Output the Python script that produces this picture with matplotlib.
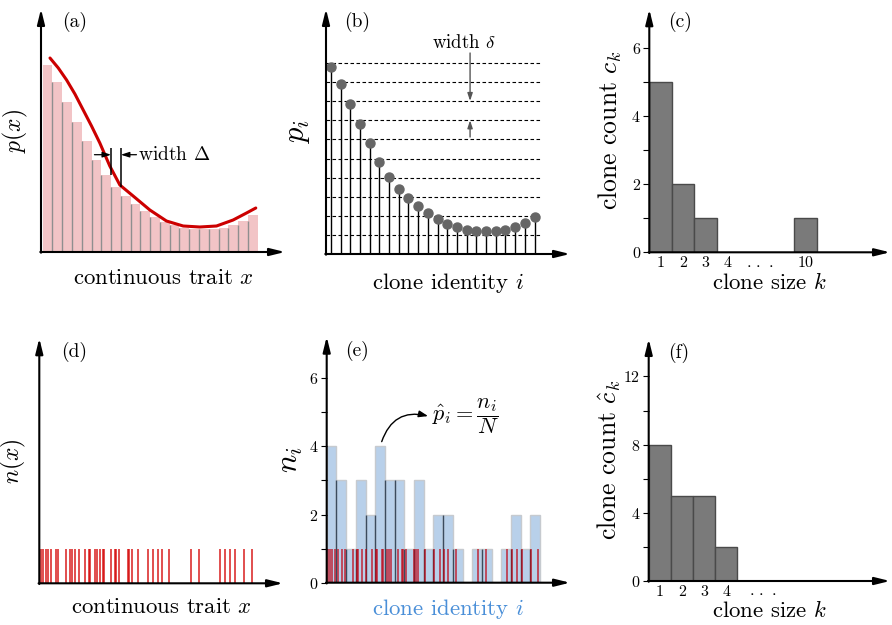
import numpy as np
import matplotlib
matplotlib.use("Agg")
import matplotlib.pyplot as plt
from matplotlib.transforms import blended_transform_factory

plt.rcParams['font.family'] = 'serif'
plt.rcParams['font.serif'] = ['cmr10', 'DejaVu Serif']
plt.rcParams['mathtext.fontset'] = 'cm'
plt.rcParams['axes.unicode_minus'] = False
plt.rcParams['axes.formatter.use_mathtext'] = True

# ---------------- data ----------------
# binned trait density (panel a) and clone frequencies (panel b)
p_bins = [18.7, 17.0, 15.0, 13.0, 11.1, 9.25, 7.75, 6.55, 5.65, 4.85, 4.15,
          3.55, 3.0, 2.7, 2.45, 2.35, 2.35, 2.35, 2.45, 2.7, 3.15, 3.75]
# continuous density curve (panel a)
curve_x = [0.75, 1.6, 2.45, 3.3, 4.15, 5.0, 5.85, 6.87, 7.9, 9.26, 10.97,
           12.67, 14.38, 16.08, 17.79, 19.49, 20.86, 21.81]
curve_y = [19.4, 18.4, 17.2, 15.8, 14.2, 12.6, 10.9, 8.6, 6.7, 5.6, 4.2,
           3.1, 2.6, 2.5, 2.6, 3.2, 3.9, 4.4]
# discretisation levels (panel b)
levels = [1.87, 3.8, 5.7, 7.63, 9.53, 11.47, 13.37, 15.3, 17.2, 19.13]
# clone size distribution (panel c)
DOTS = r'$\cdot\,\cdot\,\cdot$'
c_sizes = ['1', '2', '3', '4', DOTS, '10']
c_counts = [5, 2, 1, 0, None, 1]
# sampled individuals (panels d, e)
samples = [0.10, 0.34, 0.58, 0.86, 1.13, 1.62, 1.89, 2.68, 3.09, 3.26, 3.61,
           4.05, 4.64, 5.09, 5.15, 5.67, 5.84, 6.19, 6.46, 6.63, 7.32, 7.73,
           7.84, 8.14, 9.04, 9.18, 9.45, 10.14, 11.10, 11.68, 12.13, 12.54,
           13.33, 15.57, 16.43, 18.56, 19.07, 19.59, 20.10, 21.07, 21.82]
n_counts = [4, 3, 1, 3, 2, 4, 3, 3, 1, 3, 1, 2, 2, 1, 0, 1, 1, 0, 1, 2, 1, 2]
# sampled clone size distribution (panel f)
f_sizes = ['1', '2', '3', '4', DOTS]
f_counts = [8, 5, 5, 2, None]

W, H = 892, 625
fig = plt.figure(figsize=(W / 100, H / 100), dpi=100)


def add_ax(x0, y0, x1, ytop):
    return fig.add_axes([x0 / W, 1 - y0 / H, (x1 - x0) / W, (y0 - ytop) / H])


def arrows(ax):
    for s in ax.spines.values():
        s.set_visible(False)
    ap = dict(arrowstyle='-|>,head_length=0.65,head_width=0.16', lw=1.5,
              color='k', mutation_scale=14, shrinkA=0, shrinkB=0)
    ax.annotate('', xy=(1, 0), xytext=(-0.003, 0), xycoords='axes fraction',
                arrowprops=ap)
    ax.annotate('', xy=(0, 1), xytext=(0, -0.003), xycoords='axes fraction',
                arrowprops=ap)


def plain(ax):
    ax.set_xticks([])
    ax.set_yticks([])


XL = 16.4
PL = 14

# ---------------- panel (a) ----------------
ax = add_ax(41, 252, 285, 9)
nb = len(p_bins)
edges = np.arange(nb + 1)
ax.bar(edges[:-1], p_bins, width=1, align='edge', color='#f2c4c6',
       edgecolor='none')
for k in range(1, nb):
    ax.vlines(k, 0, min(p_bins[k - 1], p_bins[k]), color='#8f8f8f', lw=1.0)
ax.plot(curve_x, curve_y, color='#cc0000', lw=2.2, solid_capstyle='round')
ax.vlines(7, p_bins[6], 10.4, color='k', lw=1.1)
ax.vlines(8, p_bins[7], 10.4, color='k', lw=1.1)
sm = dict(arrowstyle='-|>,head_length=0.5,head_width=0.16', lw=0.9, color='k',
          mutation_scale=10, shrinkA=0, shrinkB=0)
ax.annotate('', xy=(7, 9.73), xytext=(5.3, 9.73), arrowprops=sm)
ax.annotate('', xy=(8, 9.73), xytext=(9.6, 9.73), arrowprops=sm)
ax.text(9.75, 9.73, r'width $\Delta$', fontsize=14, va='center', ha='left')
ax.set_xlim(-0.17, 24.8)
ax.set_ylim(0, 24.3)
arrows(ax)
plain(ax)
ax.set_xlabel(r'continuous trait $x$', fontsize=XL, labelpad=12)
ax.set_ylabel(r'$p(x)$', fontsize=17, labelpad=8)
ax.text(0.085, 0.99, '(a)', transform=ax.transAxes, fontsize=PL, va='top')

# ---------------- panel (b) ----------------
ax = add_ax(326, 254, 570, 9)
xs = np.arange(nb) + 0.5
ax.hlines(levels, 0, nb + 0.2, colors='k', linestyles=(0, (3.2, 2.2)), lw=0.8)
ax.vlines(xs, 0, p_bins, color='k', lw=1.0)
ax.plot(xs, p_bins, 'o', color='#666666', ms=6.5, mec='#666666')
sm2 = dict(arrowstyle='-|>,head_length=0.45,head_width=0.15', lw=1.0,
           color='#555555', mutation_scale=10, shrinkA=0, shrinkB=0)
ax.annotate('', xy=(14.85, levels[7]), xytext=(14.85, 20.1), arrowprops=sm2)
ax.annotate('', xy=(14.85, levels[6]), xytext=(14.85, 11.7), arrowprops=sm2)
ax.text(14.2, 21.1, r'width $\delta$', fontsize=13.5, ha='center', va='center')
ax.set_xlim(0, 25.15)
ax.set_ylim(0, 24.5)
arrows(ax)
plain(ax)
ax.set_xlabel(r'clone identity $i$', fontsize=XL, labelpad=12)
ax.set_ylabel(r'$p_i$', fontsize=22, labelpad=10)
ax.text(0.075, 0.99, '(b)', transform=ax.transAxes, fontsize=PL, va='top')


def count_panel(ax, labels, counts, label_pos, bar_pos, ymax, xmax, ticks,
                minors, dots_y):
    for pos, cnt in zip(bar_pos, counts):
        if cnt:
            ax.bar(pos, cnt, width=1, align='edge', color='#7a7a7a',
                   edgecolor='#4a4a4a', lw=1.0)
    ax.set_xlim(0, xmax)
    ax.set_ylim(0, ymax)
    arrows(ax)
    ax.set_xticks(label_pos)
    ax.set_xticklabels(['' if lab == DOTS else lab for lab in labels])
    ax.tick_params(axis='x', length=0, labelsize=11.5, pad=3)
    tr = blended_transform_factory(ax.transData, ax.transAxes)
    for pos, lab in zip(label_pos, labels):
        if lab == DOTS:
            ax.text(pos, dots_y, lab, transform=tr, ha='center',
                    va='baseline', fontsize=12)
    ax.set_yticks(ticks)
    ax.set_yticks(minors, minor=True)
    ax.tick_params(axis='y', which='both', length=4, width=0.8, direction='out',
                   labelsize=11.5, pad=2)


# ---------------- panel (c) ----------------
ax = add_ax(649.3, 252.3, 890, 9.3)
count_panel(ax, c_sizes, c_counts, [0.5, 1.5, 2.5, 3.5, 4.92, 6.94],
            [0, 1, 2, 3, 4.42, 6.44], 7.15, 10.7, [0, 2, 4, 6], [1, 3, 5],
            -0.064)
ax.set_xlabel(r'clone size $k$', fontsize=XL, labelpad=1)
ax.set_ylabel(r'clone count $c_k$', fontsize=18.5, labelpad=5)
ax.text(0.08, 0.99, '(c)', transform=ax.transAxes, fontsize=PL, va='top')

# ---------------- panel (d) ----------------
ax = add_ax(39.3, 583.3, 283, 338.3)
ax.vlines(samples, 0, 1, color='#d40000', alpha=0.75, lw=1.3)
ax.set_xlim(-0.07, 25.05)
ax.set_ylim(0, 7.08)
arrows(ax)
plain(ax)
ax.set_xlabel(r'continuous trait $x$', fontsize=XL, labelpad=10)
ax.set_ylabel(r'$n(x)$', fontsize=17, labelpad=8)
ax.text(0.088, 0.985, '(d)', transform=ax.transAxes, fontsize=PL, va='top')

# ---------------- panel (e) ----------------
ax = add_ax(326.7, 582.7, 570, 336.7)
ne = len(n_counts)
ax.bar(np.arange(ne), n_counts, width=1, align='edge', color='#b8d0ea',
       edgecolor='#c6cacf', lw=1.0)
for k in range(1, ne):
    top = min(n_counts[k - 1], n_counts[k])
    if top > 0:
        ax.vlines(k, 0, top, color='#3b4b5e', lw=1.0)
ax.vlines(samples, 0, 1, color='#c00010', alpha=0.75, lw=1.2)
ax.annotate('', xy=(10.45, 4.89), xytext=(5.67, 4.14),
            arrowprops=dict(arrowstyle='-|>,head_length=0.5,head_width=0.18',
                            lw=1.0, color='k', mutation_scale=11,
                            shrinkA=0, shrinkB=0,
                            connectionstyle='arc3,rad=-0.45'))
ax.text(10.9, 4.89, r'$\hat{p}_i = \dfrac{n_i}{N}$', fontsize=16,
        ha='left', va='center')
ax.set_xlim(0, 25.08)
ax.set_ylim(0, 7.22)
arrows(ax)
ax.set_xticks([])
ax.set_yticks([0, 2, 4, 6])
ax.set_yticks([1, 3, 5], minor=True)
ax.tick_params(axis='y', which='both', length=4, width=0.8, direction='out',
               labelsize=11.5, pad=2)
ax.set_xlabel(r'clone identity $i$', fontsize=XL, labelpad=10,
              color='#4a8fd8')
ax.set_ylabel(r'$n_i$', fontsize=22, labelpad=3)
ax.text(0.075, 0.985, '(e)', transform=ax.transAxes, fontsize=PL, va='top')

# ---------------- panel (f) ----------------
ax = add_ax(648.7, 581, 890, 339)
count_panel(ax, f_sizes, f_counts, [0.5, 1.5, 2.5, 3.5, 5.17],
            [0, 1, 2, 3, 4], 14.2, 10.88, [0, 4, 8, 12], [2, 6, 10], -0.064)
ax.set_xlabel(r'clone size $k$', fontsize=XL, labelpad=1)
ax.set_ylabel(r'clone count $\hat{c}_k$', fontsize=18.5, labelpad=0)
ax.text(0.08, 0.985, '(f)', transform=ax.transAxes, fontsize=PL, va='top')

fig.savefig('out.png', dpi=100)
